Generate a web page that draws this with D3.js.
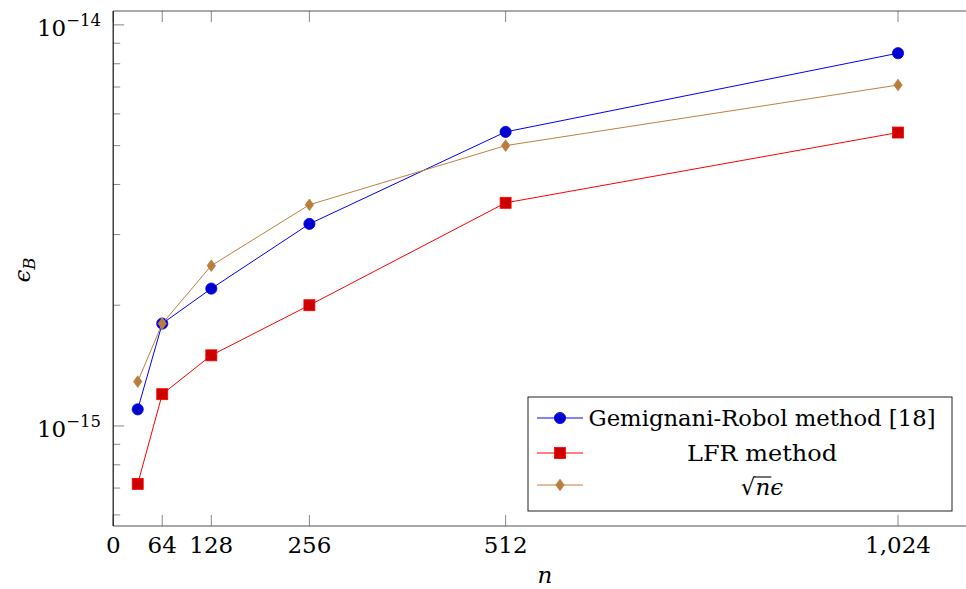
<!DOCTYPE html>
<html><head><meta charset="utf-8">
<script src="https://cdn.jsdelivr.net/npm/d3@7"></script>
<style>
html,body{margin:0;padding:0;background:#fff;overflow:hidden;}
</style></head>
<body>
<svg id="c" width="966" height="589"></svg>
<script>
const nValues = [32, 64, 128, 256, 512, 1024];
const gemignaniRobol = [1.10e-15, 1.80e-15, 2.20e-15, 3.19e-15, 5.41e-15, 8.50e-15];
const lfrMethod = [7.17e-16, 1.20e-15, 1.50e-15, 2.00e-15, 3.60e-15, 5.39e-15];
const sqrtNEps = [1.29e-15, 1.80e-15, 2.51e-15, 3.56e-15, 5.00e-15, 7.08e-15];
const xTicks = [0, 64, 128, 256, 512, 1024];
const xTickLabels = ["0", "64", "128", "256", "512", "1,024"];
const yMajorTicks = [1e-15, 1e-14];
const yMajorLabels = ["−15", "−14"];
const seriesNames = ["Gemignani-Robol method [18]", "LFR method", "sqrtneps"];

const FONT = "DejaVu Serif";
const svg = d3.select("#c");
const L = 113.2, T = 11, B = 526, R = 990;
const x = d3.scaleLinear().domain([0, 1144]).range([L, R]);
const y = d3.scaleLog().domain([5.63e-16, 1.083e-14]).range([B, T]);

const minor = [];
for (let e = -16; e <= -14; e++) for (let m = 2; m <= 9; m++) {
  const v = m * Math.pow(10, e);
  if (v >= y.domain()[0] && v <= y.domain()[1]) minor.push(v);
}
const tickCol = "#7a7a7a";
const g = svg.append("g");
function txt(sel) { return sel.append("text").attr("font-family", FONT).attr("fill", "#000"); }
xTicks.forEach(v => {
  g.append("line").attr("x1", x(v)).attr("x2", x(v)).attr("y1", B).attr("y2", B - 11).attr("stroke", tickCol).attr("stroke-width", 0.9);
  g.append("line").attr("x1", x(v)).attr("x2", x(v)).attr("y1", T).attr("y2", T + 11).attr("stroke", tickCol).attr("stroke-width", 0.9);
});
minor.forEach(v => {
  g.append("line").attr("x1", L).attr("x2", L + 7).attr("y1", y(v)).attr("y2", y(v)).attr("stroke", tickCol).attr("stroke-width", 0.9);
});
yMajorTicks.forEach(v => {
  g.append("line").attr("x1", L).attr("x2", L + 11).attr("y1", y(v)).attr("y2", y(v)).attr("stroke", tickCol).attr("stroke-width", 0.9);
});
g.append("line").attr("x1", L).attr("x2", R).attr("y1", T).attr("y2", T).attr("stroke", "#555").attr("stroke-width", 1.2);
g.append("line").attr("x1", L).attr("x2", R).attr("y1", B).attr("y2", B).attr("stroke", "#555").attr("stroke-width", 1.2);
g.append("line").attr("x1", L).attr("x2", L).attr("y1", T).attr("y2", B).attr("stroke", "#111").attr("stroke-width", 1.2);

xTicks.forEach((v, i) => {
  txt(g).attr("x", x(v)).attr("y", 553).attr("text-anchor", "middle").attr("font-size", 23).text(xTickLabels[i]);
});
yMajorTicks.forEach((v, i) => {
  const t = txt(g).attr("x", 101).attr("y", y(v) + 11).attr("text-anchor", "end").attr("font-size", 23);
  t.append("tspan").text("10");
  t.append("tspan").attr("font-size", 16.5).attr("dy", -10).text(yMajorLabels[i]);
});
txt(g).attr("x", 545).attr("y", 583).attr("text-anchor", "middle").attr("font-size", 23).attr("font-style", "italic").text("n");
const yl = txt(g).attr("transform", "translate(30,270) rotate(-90)").attr("text-anchor", "middle").attr("font-size", 23);
yl.append("tspan").attr("font-style", "italic").text("ϵ");
yl.append("tspan").attr("font-style", "italic").attr("font-size", 16.5).attr("dy", 5).text("B");

const series = [
  {vals: gemignaniRobol, stroke: "#0000ff", fill: "#0000cc", mark: "circle"},
  {vals: lfrMethod, stroke: "#ff0000", fill: "#cc0000", mark: "square"},
  {vals: sqrtNEps, stroke: "#bf8040", fill: "#b97d40", mark: "diamond"}
];
const line = d3.line().x((d, i) => x(nValues[i])).y(d => y(d));
function drawMark(sel, s, cx, cy) {
  if (s.mark === "circle") {
    sel.append("circle").attr("cx", cx).attr("cy", cy).attr("r", 5.6).attr("fill", s.fill).attr("stroke", s.stroke).attr("stroke-width", 0.8);
  } else if (s.mark === "square") {
    sel.append("rect").attr("x", cx - 5.5).attr("y", cy - 5.5).attr("width", 11).attr("height", 11).attr("fill", s.fill).attr("stroke", s.stroke).attr("stroke-width", 0.8);
  } else {
    sel.append("path").attr("d", `M${cx},${cy - 5.8}L${cx + 4.2},${cy}L${cx},${cy + 5.8}L${cx - 4.2},${cy}Z`).attr("fill", s.fill).attr("stroke", s.stroke).attr("stroke-width", 0.8);
  }
}
series.forEach(s => {
  g.append("path").attr("d", line(s.vals)).attr("fill", "none").attr("stroke", s.stroke).attr("stroke-width", 1);
  s.vals.forEach((v, i) => drawMark(g, s, x(nValues[i]), y(v)));
});

const lg = svg.append("g");
lg.append("rect").attr("x", 528).attr("y", 397).attr("width", 424).attr("height", 114).attr("fill", "#fff").attr("stroke", "#222").attr("stroke-width", 1);
const rowsY = [418, 453, 485];
const cxText = 762;
series.forEach((s, i) => {
  lg.append("line").attr("x1", 537).attr("x2", 583).attr("y1", rowsY[i]).attr("y2", rowsY[i]).attr("stroke", s.stroke).attr("stroke-width", 1);
  drawMark(lg, s, 560, rowsY[i]);
});
txt(lg).attr("x", cxText).attr("y", 426).attr("text-anchor", "middle").attr("font-size", 22)
  .attr("textLength", 347).attr("lengthAdjust", "spacingAndGlyphs").text(seriesNames[0]);
txt(lg).attr("x", cxText).attr("y", 461).attr("text-anchor", "middle").attr("font-size", 22)
  .attr("textLength", 150).attr("lengthAdjust", "spacingAndGlyphs").text(seriesNames[1]);
const st = txt(lg).attr("x", cxText).attr("y", 495).attr("text-anchor", "middle").attr("font-size", 23);
st.append("tspan").text("√");
st.append("tspan").attr("font-style", "italic").text("n");
st.append("tspan").attr("font-style", "italic").text("ϵ");
try {
  const node = st.node();
  const ext = node.getExtentOfChar(1);
  const rootExt = node.getExtentOfChar(0);
  lg.append("line").attr("x1", rootExt.x + rootExt.width - 1).attr("x2", ext.x + ext.width + 1)
    .attr("y1", rootExt.y + 3).attr("y2", rootExt.y + 3).attr("stroke", "#000").attr("stroke-width", 1.1);
} catch (e) {}
</script>
</body></html>
